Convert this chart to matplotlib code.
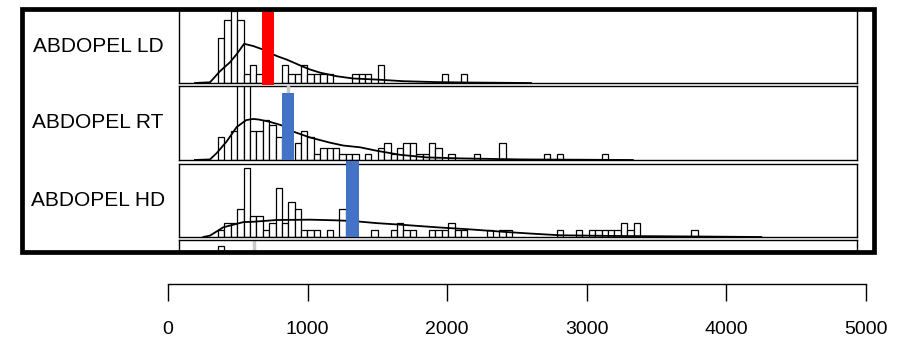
import matplotlib
matplotlib.use('Agg')
import matplotlib.pyplot as plt
from matplotlib.patches import Rectangle
import numpy as np

plt.rcParams['font.family'] = ['Liberation Sans', 'DejaVu Sans']

# ---- data ----
labels = ['ABDOPEL LD', 'ABDOPEL RT', 'ABDOPEL HD']

# histogram grid shared by all panels
bin_start = 358
bin_width = 45.8

ld_bins = [0, 1, 2, 3, 4, 5, 6, 7, 10, 11, 12, 13, 14, 15, 16, 17, 21, 22, 23, 25, 35, 38]
ld_counts = [5, 7, 8, 7, 1, 2, 1, 2, 2, 1, 1, 2, 1, 1, 1, 1, 1, 1, 1, 2, 1, 1]

rt_bins = [0, 2, 3, 4, 5, 6, 7, 8, 9, 12, 13, 14, 15, 16, 17, 18, 19, 20, 21, 23,
           25, 26, 27, 28, 29, 30, 31, 32, 33, 34, 36, 40, 44, 51, 53, 60]
rt_counts = [4, 5, 13, 13, 5, 5, 7, 6, 4, 3, 5, 4, 1, 2, 2, 2, 1, 1, 1, 1,
             2, 3, 1, 2, 3, 3, 1, 1, 3, 2, 1, 1, 3, 1, 1, 1]

hd_bins = [0, 1, 2, 3, 4, 5, 6, 7, 8, 9, 10, 11, 12, 13, 14, 15, 17, 19, 24, 27, 28,
           29, 30, 33, 34, 35, 36, 37, 38, 42, 44, 45, 53, 56, 58, 59, 60, 61, 62,
           63, 64, 65, 74]
hd_counts = [1, 2, 2, 4, 10, 3, 3, 1, 2, 7, 2, 5, 4, 1, 1, 1, 1, 4, 1, 1, 2,
             1, 1, 1, 1, 1, 2, 1, 1, 1, 1, 1, 1, 1, 1, 1, 1, 1, 1,
             2, 1, 2, 1]

# density curves (x in data units, y in count units)
ld_kx = [193, 301, 372, 444, 492, 545, 611, 683, 778, 850, 969, 1017, 1089, 1208,
         1327, 1495, 1686, 1924, 2163, 2600]
ld_ky = [0, 0.08, 1.3, 2.3, 3.2, 4.35, 4.1, 3.7, 3.0, 2.6, 1.8, 1.5, 1.15, 0.75,
         0.5, 0.38, 0.2, 0.1, 0.05, 0]

rt_kx = [193, 301, 349, 420, 492, 560, 611, 650, 730, 814, 898, 1017, 1160, 1256,
         1375, 1495, 1662, 1855, 2092, 2521, 3330]
rt_ky = [0, 0.1, 1.2, 3.2, 5.7, 6.9, 7.1, 7.0, 6.6, 6.0, 4.9, 3.9, 3.0, 2.5,
         2.2, 1.6, 0.9, 0.45, 0.28, 0.1, 0]

hd_kx = [253, 301, 396, 492, 540, 611, 778, 1017, 1208, 1327, 1495, 1686, 1924,
         2163, 2402, 2593, 2808, 3200, 3800, 4250]
hd_ky = [0, 0.2, 1.4, 1.9, 2.15, 2.2, 2.45, 2.5, 2.4, 2.3, 2.0, 1.75, 1.4,
         1.1, 0.75, 0.5, 0.25, 0.15, 0.07, 0]

# highlighted values per panel
marks = [716, 860, 1323]
mark_colors = ['#ff0000', '#4472c4', '#4472c4']

# bottom strip
strip_bins = [0]
strip_counts = [1]
strip_mark = 616

ticks = [0, 1000, 2000, 3000, 4000, 5000]

# ---- layout (pixels) ----
W, H = 907, 344
fig = plt.figure(figsize=(W / 100, H / 100), dpi=100)

def fig_box(x0, y0, x1, y1):
    # pixel box (top-left origin) -> figure fraction rect
    return [x0 / W, 1 - y1 / H, (x1 - x0) / W, (y1 - y0) / H]

ax_px0, ax_px1 = 168, 866   # 0 and 5000 on the scale
px_per = (ax_px1 - ax_px0) / 5000.0
pan_x0, pan_x1 = 179, 857
xlim = ((pan_x0 - ax_px0) / px_per, (pan_x1 - ax_px0) / px_per)

panel_rows = [(10, 83), (86, 160), (163.5, 237)]
ylims = [8.1, 12.8, 10.6]
bar_tops = [(-0.03, 1.0), (0, 0.91), (0, 1.04)]

bins_all = [ld_bins, rt_bins, hd_bins]
counts_all = [ld_counts, rt_counts, hd_counts]
kx_all = [ld_kx, rt_kx, hd_kx]
ky_all = [ld_ky, rt_ky, hd_ky]

def style_panel(ax):
    ax.set_xlim(*xlim)
    ax.set_xticks([])
    ax.set_yticks([])
    for s in ax.spines.values():
        s.set_linewidth(1.0)

for i in range(3):
    y0, y1 = panel_rows[i]
    ax = fig.add_axes(fig_box(pan_x0, y0, pan_x1, y1))
    style_panel(ax)
    ax.set_ylim(0, ylims[i])
    lefts = bin_start + np.array(bins_all[i]) * bin_width
    ax.bar(lefts, counts_all[i], width=bin_width, align='edge',
           facecolor='white', edgecolor='black', linewidth=0.9, zorder=2)
    ax.plot(kx_all[i], ky_all[i], color='black', lw=1.3, zorder=3)
    ax.axvline(marks[i], color='#c8c8c8', lw=2.5, zorder=4)
    b0, b1 = bar_tops[i]
    ax.add_patch(Rectangle((marks[i] - 45, b0), 90, b1 - b0,
                           transform=ax.get_xaxis_transform(),
                           facecolor=mark_colors[i], edgecolor='none',
                           zorder=5, clip_on=False))
    fig.text(98 / W, 1 - (y0 + y1) / 2 / H, labels[i], fontsize=15,
             ha='center', va='center')

# thin strip at the bottom
ax4 = fig.add_axes(fig_box(pan_x0, 240, pan_x1, 251))
style_panel(ax4)
ax4.set_ylim(0, 2.2)
ax4.bar(bin_start + np.array(strip_bins) * bin_width, strip_counts,
        width=bin_width, align='edge', facecolor='white', edgecolor='black',
        linewidth=0.9)
ax4.axvline(strip_mark, color='#c8c8c8', lw=2.5)

# heavy outer frame
fig.patches.append(Rectangle((21.5 / W, 1 - 251.5 / H), (874 - 21.5) / W,
                             (251.5 - 8.5) / H, transform=fig.transFigure,
                             fill=False, edgecolor='black', linewidth=3.4,
                             zorder=10))

# scale underneath
axb = fig.add_axes(fig_box(ax_px0, 283, ax_px1, 284))
axb.set_xlim(0, 5000)
axb.set_yticks([])
for s in ['top', 'left', 'right']:
    axb.spines[s].set_visible(False)
axb.spines['bottom'].set_linewidth(1.0)
axb.set_xticks(ticks)
axb.set_xticklabels([str(t) for t in ticks])
axb.tick_params(axis='x', direction='out', length=12.5, width=1.0,
                labelsize=14, pad=14)
axb.patch.set_visible(False)

fig.savefig('out.png', dpi=100)
